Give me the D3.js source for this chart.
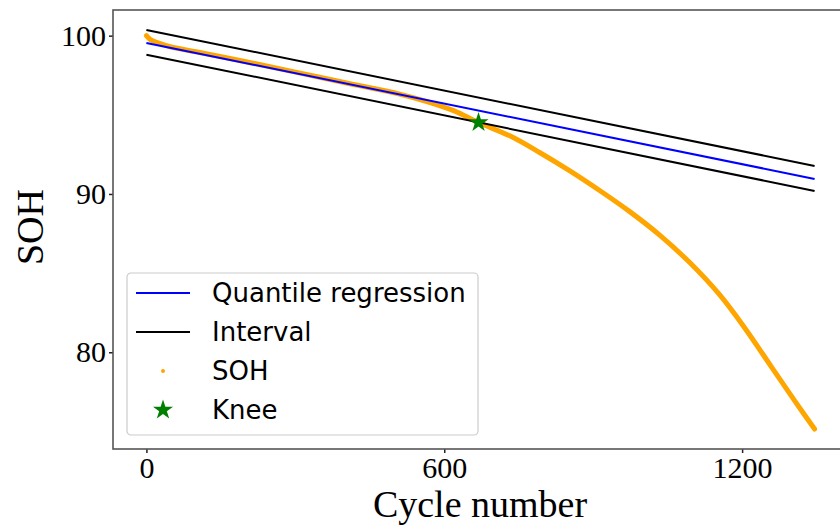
<!DOCTYPE html>
<html>
<head>
<meta charset="utf-8">
<script src="https://cdn.jsdelivr.net/npm/d3@7"></script>
<style>
  body { margin: 0; background: #fff; }
  .tick text { font-family: "Liberation Serif", "Times New Roman", serif; }
</style>
</head>
<body>
<svg width="840" height="532"></svg>
<script>
// SOH curve (cycle, percent)
var sohCycles = [0, 8, 22, 48, 110, 210, 310, 410, 510, 570, 620, 669, 732, 792, 853, 913, 973, 1034, 1094, 1155, 1205, 1259, 1306, 1346];
var sohValues = [100.0, 99.75, 99.56, 99.30, 98.92, 98.29, 97.63, 96.96, 96.31, 95.79, 95.25, 94.51, 93.67, 92.62, 91.46, 90.22, 88.90, 87.40, 85.68, 83.62, 81.55, 79.08, 76.93, 75.15];

// fitted lines, start and end
var lineCycles = [0, 1346];
var quantile = [99.54, 90.95];
var upper = [100.36, 91.77];
var lower = [98.80, 90.19];

var knee = [669, 94.51];

var xTicks = [0, 600, 1200];
var yTicks = [80, 90, 100];
var legendLabels = ["Quantile regression", "Interval", "SOH", "Knee"];

var svg = d3.select("svg"),
    margin = {top: 10, left: 113, right: 848, bottom: 449};

// matplotlib-like 5% margins
var xExt = d3.extent(sohCycles.concat(lineCycles)),
    yExt = d3.extent(sohValues.concat(upper, lower, quantile));
var xPad = (xExt[1] - xExt[0]) * 0.05,
    yPad = (yExt[1] - yExt[0]) * 0.05;

var x = d3.scaleLinear().domain([xExt[0] - xPad, xExt[1] + xPad]).range([margin.left, margin.right]);
var y = d3.scaleLinear().domain([yExt[0] - yPad, yExt[1] + yPad]).range([margin.bottom, margin.top]);

svg.append("clipPath").attr("id", "clip")
    .append("rect")
    .attr("x", margin.left).attr("y", margin.top)
    .attr("width", margin.right - margin.left).attr("height", margin.bottom - margin.top);

var plot = svg.append("g").attr("clip-path", "url(#clip)");

function fitLine(vals) {
    return lineCycles.map(function(c, i) { return [c, vals[i]]; });
}
var line = d3.line().x(function(d) { return x(d[0]); }).y(function(d) { return y(d[1]); });

// SOH points, dense enough to read as a thick band
var sohPts = sohCycles.map(function(c, i) { return [c, sohValues[i]]; });
plot.append("path")
    .attr("d", d3.line().x(function(d) { return x(d[0]); }).y(function(d) { return y(d[1]); })
        .curve(d3.curveCatmullRom.alpha(0.5))(sohPts))
    .attr("fill", "none")
    .attr("stroke", "orange")
    .attr("stroke-width", 5)
    .attr("stroke-linecap", "round");

plot.append("path").attr("d", line(fitLine(quantile)))
    .attr("fill", "none").attr("stroke", "blue").attr("stroke-width", 2);
plot.append("path").attr("d", line(fitLine(upper)))
    .attr("fill", "none").attr("stroke", "black").attr("stroke-width", 2);
plot.append("path").attr("d", line(fitLine(lower)))
    .attr("fill", "none").attr("stroke", "black").attr("stroke-width", 2);

var star = d3.symbol().type(d3.symbolStar);
plot.append("path")
    .attr("d", star.size(125)())
    .attr("transform", "translate(" + x(knee[0]) + "," + y(knee[1]) + ")")
    .attr("fill", "green");

// axes
var xAxis = svg.append("g")
    .attr("transform", "translate(0," + margin.bottom + ")")
    .call(d3.axisBottom(x).tickValues(xTicks).tickFormat(d3.format("d")).tickSize(4).tickPadding(4));
var yAxis = svg.append("g")
    .attr("transform", "translate(" + margin.left + ",0)")
    .call(d3.axisLeft(y).tickValues(yTicks).tickFormat(d3.format("d")).tickSize(4).tickPadding(3));
[xAxis, yAxis].forEach(function(a) {
    a.select(".domain").remove();
    a.selectAll(".tick line").attr("stroke", "#222").attr("stroke-width", 1.5);
    a.selectAll(".tick text").attr("font-size", 30).attr("fill", "#000");
});

// frame
svg.append("rect")
    .attr("x", margin.left).attr("y", margin.top)
    .attr("width", margin.right - margin.left).attr("height", margin.bottom - margin.top)
    .attr("fill", "none").attr("stroke", "#555").attr("stroke-width", 1.6);

svg.append("text")
    .attr("x", 480).attr("y", 517)
    .attr("text-anchor", "middle")
    .attr("font-family", "Liberation Serif, serif")
    .attr("font-size", 38)
    .text("Cycle number");

svg.append("text")
    .attr("transform", "translate(43,227) rotate(-90)")
    .attr("text-anchor", "middle")
    .attr("font-family", "Liberation Serif, serif")
    .attr("font-size", 38)
    .text("SOH");

// legend
var lg = svg.append("g").attr("transform", "translate(127,273)");
lg.append("rect")
    .attr("width", 351).attr("height", 162).attr("rx", 4)
    .attr("fill", "#fff").attr("fill-opacity", 0.8)
    .attr("stroke", "#ccc").attr("stroke-width", 1.2);

var rowY = d3.scalePoint().domain(legendLabels).range([20, 137]);
legendLabels.forEach(function(lab, i) {
    var yy = rowY(lab);
    if (i < 2) {
        lg.append("line").attr("x1", 9).attr("x2", 63).attr("y1", yy).attr("y2", yy)
            .attr("stroke", i === 0 ? "blue" : "black").attr("stroke-width", 2);
    } else if (i === 2) {
        lg.append("circle").attr("cx", 36).attr("cy", yy).attr("r", 2).attr("fill", "orange");
    } else {
        lg.append("path").attr("d", star.size(125)())
            .attr("transform", "translate(36," + yy + ")").attr("fill", "green");
    }
    lg.append("text")
        .attr("x", 85).attr("y", yy).attr("dy", "0.36em")
        .attr("font-family", "DejaVu Sans, sans-serif")
        .attr("font-size", 26)
        .text(lab);
});
</script>
</body>
</html>
